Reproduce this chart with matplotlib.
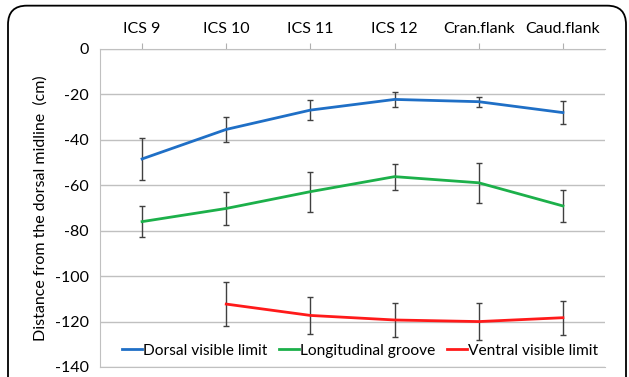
import numpy as np
import matplotlib.pyplot as plt
from matplotlib.patches import FancyBboxPatch

plt.rcParams['font.family'] = ['Lato', 'DejaVu Sans']
plt.rcParams['axes.unicode_minus'] = False

categories = ['ICS 9', 'ICS 10', 'ICS 11', 'ICS 12', 'Cran.flank', 'Caud.flank']

dorsal = [-48.4, -35.4, -26.9, -22.2, -23.2, -28.0]
dorsal_err = [9.2, 5.5, 4.5, 3.3, 2.2, 5.1]

groove = [-76.0, -70.2, -62.8, -56.2, -58.9, -69.1]
groove_err = [6.8, 7.4, 8.8, 5.7, 8.8, 6.9]

ventral = [np.nan, -112.3, -117.3, -119.3, -120.0, -118.3]
ventral_err = [0, 9.6, 8.2, 7.3, 8.2, 7.4]

fig = plt.figure(figsize=(6.29, 3.77), dpi=100)
ax = fig.add_axes([100 / 629, 1 - 367 / 377, 505 / 629, 318 / 377])

# rounded outer frame, cut off at the bottom like the original
frame = FancyBboxPatch((8 / 629, -0.1), 618 / 629, 1.085, boxstyle="round,pad=0,rounding_size=0.03",
                       transform=fig.transFigure, fill=False, edgecolor='black', lw=1.3,
                       mutation_aspect=629 / 377, clip_on=False)
fig.patches.append(frame)

x = np.arange(len(categories))
series = [(dorsal, dorsal_err, '#1f6fc6', 'Dorsal visible limit'),
          (groove, groove_err, '#1cb04a', 'Longitudinal groove'),
          (ventral, ventral_err, '#ff1a1a', 'Ventral visible limit')]
for vals, errs, col, lab in series:
    v = np.array(vals)
    e = np.array(errs)
    ok = ~np.isnan(v)
    ax.errorbar(x[ok], v[ok], yerr=e[ok], fmt='none', ecolor='#404040', elinewidth=1,
                capsize=2.5, capthick=1, zorder=2)
    ax.plot(x, v, color=col, lw=2, label=lab, zorder=3)

ax.set_xlim(-0.5, 5.5)
ax.set_ylim(-140, 0)
ax.set_yticks(np.arange(-140, 1, 20))
ax.yaxis.grid(True, color='#c0c0c0', lw=1)
ax.set_axisbelow(True)

ax.xaxis.tick_top()
ax.set_xticks(x)
ax.set_xticklabels(categories)
ax.tick_params(axis='x', direction='out', length=4, color='#b0b0b0', pad=5, labelsize=11.5)
ax.tick_params(axis='y', length=0, pad=8, labelsize=11.5)

ax.spines['right'].set_visible(False)
for s in ['top', 'left', 'bottom']:
    ax.spines[s].set_color('#c0c0c0')

ax.set_ylabel('Distance from the dorsal midline  (cm)', fontsize=11.5, labelpad=5)

ax.legend(loc='lower center', bbox_to_anchor=(0.515, -0.015), ncol=3, frameon=False,
          handlelength=1.3, handletextpad=0.1, columnspacing=0.7, fontsize=11.2)

fig.savefig('out.png', dpi=100)
